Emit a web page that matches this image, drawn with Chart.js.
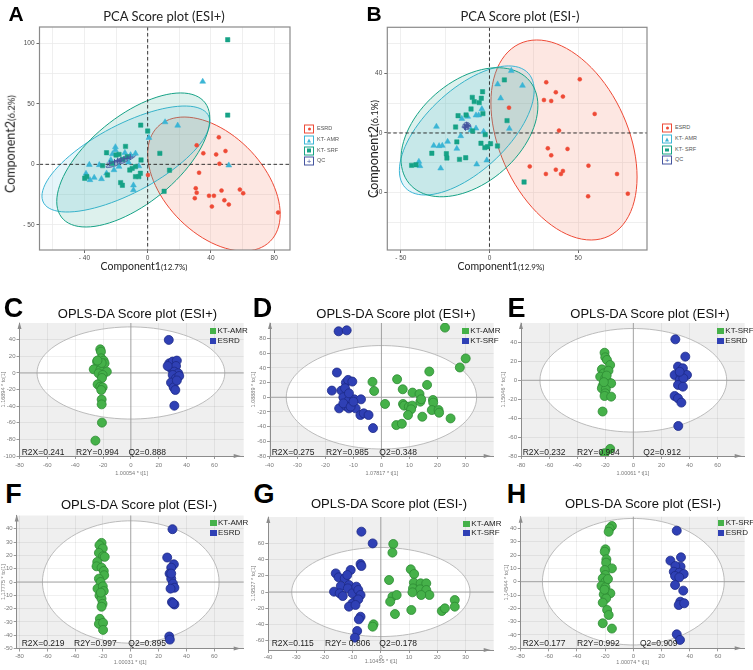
<!DOCTYPE html>
<html>
<head>
<meta charset="utf-8">
<script src="https://cdn.jsdelivr.net/npm/chart.js@4.4.0/dist/chart.umd.min.js"></script>
<style>
  body { margin: 0; width: 753px; height: 670px; position: relative; overflow: hidden; background: #fff;
         font-family: "Liberation Sans", Arial, sans-serif; }
  canvas { position: absolute; }
  .t { position: absolute; white-space: nowrap; line-height: 1; z-index: 2; }
</style>
</head>
<body>
<script>
// ---------- PCA (A / B) ----------
const pcaGroups = ['ESRD', 'KT- AMR', 'KT- SRF', 'QC'];
const pcaColors = ['#EE4A36', '#3BB5D5', '#16A286', '#45559F'];
const pcaFills = ['rgba(244,120,96,0.18)', 'rgba(80,190,222,0.15)', 'rgba(26,162,134,0.15)', 'rgba(69,85,159,0.35)'];
const pcaShapes = ['circle', 'triangle', 'rect', 'cross'];
const pcaSizes = [2, 3.4, 3.1, 3];

const A_esrd = [[45,22.3],[31,15.7],[35.2,9.1],[43.3,8.2],[49.2,11],[45.4,0.5],[32.5,-6.9],[30.4,-19.8],[31,-23.4],[29.8,-28],[38.8,-26],[41.9,-26],[40.6,-34.9],[46.7,-21.7],[48.5,-29.7],[51.3,-33.2],[58.3,-20.9],[60.4,-23.9],[82.5,-39.8],[0.2,-8.8]];
const A_amr = [[34.8,68.4],[11,34.9],[19,32.1],[0.8,22],[51.3,-0.8],[-7.7,9],[-20.4,14.3],[-20.4,11.8],[-14.4,9.6],[-10.8,7.7],[-36.9,-0.3],[-39,-7.7],[-36.5,-12.9],[-33.8,-11],[-29.2,-12.1],[-26,-7.4],[-9,-17.3],[-9,-21.2],[-22.3,8.5],[-23.3,3.6],[-18.1,-1.9],[-21.3,-4.7],[-12.1,1.6],[-5.6,-1.4],[-30.6,-0.5]];
const A_srf = [[50.6,103],[50.6,40.7],[-4.4,32.4],[0,27.5],[7.7,9.1],[13.8,-4.9],[10.4,-22.3],[-14,14.8],[-26,9.6],[-20,7.7],[-18.1,8.2],[-12.9,6.3],[-4.2,3.6],[-7.7,-1.9],[-9.8,-3.3],[-39.8,-11.5],[-38.5,-10.2],[-28.5,-1.1],[-25.4,-8.8],[-22.3,0.8],[-17.1,-15.1],[-16,-17.3],[-7.7,-10.2],[-5.6,-10.2],[-4.6,-7.4],[-15.6,4.1],[-11.3,-4.7]];
const A_qc = [[-24,1],[-21,2],[-19,3],[-17,3.5],[-15,4.5],[-13,5],[-11,6],[-18,2.5]];
// confidence ellipses: [cx, cy, half-width, half-height, correlation] in data units
const A_ellipses = [[41.9,-16.3,41.9,55.4,-0.45],[-13.75,4.4,53.1,43.8,0.7],[-9.1,3.6,48.4,55.4,0.62],[-16.9,2.7,9.4,5.4,0.9]];
const A_xTicks = [-60,-40,-20,0,20,40,60,80];
const A_yTicks = [-50,-25,0,25,50,75,100];

const B_esrd = [[32,34],[50.9,36],[37.4,27.3],[41.4,24.4],[30.7,22.1],[34.8,21.5],[11,17],[59.3,12.8],[39.2,1.6],[32.9,-10.3],[44,-10.7],[34.8,-15],[22.7,-22.4],[55.8,-21.9],[31.8,-27.5],[37.4,-24.6],[40.3,-27.5],[41.4,-25.5],[71.9,-27.5],[55.6,-42.5],[78,-40.7]];
const B_amr = [[12.3,41.8],[4.6,32.7],[18.6,31.8],[6.3,23.3],[11.2,2.9],[-29.9,4.3],[-39.8,-19.2],[-39.2,-22.1],[-31.4,-8.5],[-28.4,-8.7],[-26.6,-8.5],[-23.6,-5.8],[-27.5,-23.7],[-18.4,-10.5],[-16.2,-2],[-15.6,9.6],[-12.3,11],[-7.6,11.9],[-6.1,11.9],[-4.3,16.1],[-7.6,3.1],[-10.4,2],[-3.3,0.9],[-7.2,-21],[-1.5,-18.3]];
const B_srf = [[8.4,35.6],[9.9,8.3],[19.5,-32.9],[4.5,-8.7],[0.6,-7.2],[-1.1,-9.2],[-2.6,-9.8],[-2.4,-1.1],[-3.9,27.7],[-9.7,23.9],[-8.6,21],[-5.8,20.4],[-4.6,23.3],[-10.4,16.1],[-3.7,13],[-17.7,11.6],[-13.2,12.1],[-19.1,4],[-18.4,-6],[-24.3,-13.9],[-24,-16.8],[-32.5,-13.6],[-43.9,-21.7],[-41.4,-21.3],[-16.9,-17.7],[-13.4,-16.6],[-9.5,1.3],[-4.8,-6.9]];
const B_qc = [[-14,4],[-13,5.5],[-12,4.5],[-13.5,3.5],[-12.5,5]];
const B_ellipses = [[42,-4.7,41.2,67.1,-0.37],[-12.8,1.7,38,43.3,0.62],[-11.3,0.5,38.6,43.3,0.41],[-12.8,4.7,2.2,2.4,0]];
const B_xTicks = [-50,-25,0,25,50,75];
const B_yTicks = [-60,-40,-20,0,20,40,60];

// ---------- OPLS-DA (C - H) ----------
const C_amr = [[-22,28.5],[-21.5,25.7],[-21.3,17.7],[-24.3,13.7],[-19.6,14.9],[-23.2,9.6],[-18.9,11.6],[-26.7,4.4],[-22,3.6],[-17.3,1.6],[-23.2,-0.4],[-20.3,-2.4],[-20.8,-6],[-23.9,-13.7],[-22,-16.5],[-20.3,-17.3],[-21.3,-20.5],[-21,-32],[-21,-37.8],[-20.8,-59.8],[-25.5,-81.5],[-21,12],[-24,15]];
const C_esrd = [[27.2,39.8],[27.6,11.6],[30,13.7],[33,14.9],[28.8,5.6],[32.4,8.4],[31.2,1.6],[34,-0.4],[30,-2.4],[32.4,-6.4],[28.8,-11.6],[30.7,-17.3],[31.9,-20.5],[31.2,-39.4],[26.4,8.4],[34.7,-3.6],[33,-9]];
const D_amr = [[-3.2,21],[-2.6,8.6],[22.7,94.9],[30.1,52.9],[28,40.6],[17.1,35.1],[5.6,24.6],[16.3,16.9],[7.6,10.9],[11.1,6.4],[13.6,4.5],[1.3,-9.1],[7.7,-9.1],[8.1,-11.4],[9.8,-12.8],[11,-11.4],[10.6,-16.4],[9.5,-24.2],[13.9,-6],[14.6,-26.5],[18.4,-3.7],[18.5,-7.3],[18,-17.4],[20.4,-17.4],[20.6,-21],[24.7,-28.8],[5.3,-37.9],[7.3,-36.1],[14.2,-2.7]];
const D_srf = [[-15.3,89.9],[-12.4,91.2],[-15.9,33.7],[-17.7,9.1],[-14.3,9.1],[-12.7,20],[-11.9,23.7],[-10.4,21.4],[-13,12.3],[-13.6,0],[-11.6,-3.7],[-9.7,-2.8],[-15.1,-15.1],[-12.7,-11.9],[-11.6,-15.1],[-10.4,-11.9],[-9.2,-15.1],[-7.3,-2.8],[-7.5,-24.2],[-6.3,-21.9],[-4.6,-24.2],[-3,-42],[-13.6,-8.3],[-11.6,5.4],[-11,-12.8],[-10,-6]];
const E_srf = [[-20.5,29],[-20,24.2],[-18.8,21.4],[-22.4,11.5],[-16.5,16.1],[-21.2,7.3],[-17.7,10.1],[-23.6,3.8],[-20,2.1],[-18.1,-1.4],[-21.9,-6],[-17.7,-3.2],[-15.8,-3.2],[-22.4,-8.5],[-19.6,-9.5],[-20,-13.7],[-20.5,-16.5],[-15.8,-17.2],[-21.9,-32.9],[-16.5,-72.2],[-20.5,-76.8],[-19,5],[-21,-2]];
const E_esrd = [[29.9,43.1],[37,24.9],[31.8,14.4],[35.3,12.6],[29.4,5.6],[33.7,5.6],[38.2,5.6],[33,0.3],[35.6,2.1],[31.8,-4.9],[35.3,-6.7],[29.4,-16.5],[31.8,-19],[34.2,-23.5],[32,-48.1],[33,9]];
const F_amr = [[-21,29.4],[-22.5,27.7],[-20.1,25.2],[-22.9,21.9],[-19.9,19.4],[-18.7,18.9],[-24.1,15.1],[-24.6,11.8],[-21,10.8],[-19.4,8.3],[-19.1,5.1],[-22.9,2.5],[-21.7,0],[-23.9,-5],[-20.1,-3.3],[-19.4,-6.8],[-22.5,-10.1],[-21,-12.6],[-20.3,-16.4],[-21,-18.6],[-22.2,-27.7],[-22.9,-31.5],[-19.9,-30.7],[-19.9,-36],[-21.5,-8]];
const F_esrd = [[30,39.7],[26.2,18.4],[31,13.3],[29.1,10.8],[27.9,6.3],[29.1,2.5],[30.3,-1.2],[31.4,-4.3],[28.6,-5],[29.6,-15.1],[31.4,-16.9],[27.7,-41],[28.1,-43.3],[29.1,6.3],[30.5,-16]];
const G_amr = [[4.4,59.3],[4.1,48.6],[10.6,28],[11.8,22.2],[2.9,14.8],[11.7,11.5],[11.4,4.5],[14.1,10.7],[16.1,10.7],[13.9,3.3],[16.1,2.5],[17.2,-3.7],[11.2,-0.4],[14.3,-3.7],[4.1,-5.8],[5.6,-3.7],[3.3,-11.9],[5,-27.2],[10.8,-22.2],[21.6,-23.5],[22.7,-20.2],[26.2,-9.9],[26.2,-18.1],[-2.6,-39.9],[-2.9,-42.8]];
const G_srf = [[-6.9,74.5],[-2.9,60],[-7.2,34.6],[-6.9,32.1],[-10.7,27.2],[-16,23],[-15,18.1],[-12.8,16.9],[-11.9,21],[-14.2,7.4],[-11.3,8.6],[-16.6,0.4],[-14.6,-1.6],[-11.7,4.5],[-10.1,-1.6],[-8.7,6.6],[-8,2.5],[-7.2,-3.7],[-9.2,-11.9],[-10.1,-14],[-11.3,-18.1],[-8,-9.1],[-9,-16],[-7.2,-30.5],[-7.8,-33.7],[-8.4,-48.1],[-9.2,-56.4],[-13.5,-5]];
const H_srf = [[-15.2,41.8],[-16.8,40],[-17.5,37.5],[-19.8,24.3],[-20.3,22.5],[-19.1,16.8],[-19.3,14.3],[-15.2,10],[-20.3,8.8],[-19.8,5],[-21.7,2.5],[-19.8,0],[-22.6,-3.2],[-19.8,-4.2],[-16.3,-8.7],[-21,-9.5],[-19.3,-12.5],[-21.7,-15.7],[-18.6,-21.2],[-17.5,-25],[-21.7,-31.2],[-15.2,-35.2],[-20.5,-6],[-18,2]];
const H_esrd = [[30.8,38.3],[33.8,18.3],[26.3,15.8],[33.5,11.3],[29.8,11.8],[28.7,7.5],[32.6,6.8],[35.7,5.8],[29.6,4.3],[32.6,3.3],[29.6,-2.5],[35.4,-6.7],[33.3,-15],[32.2,-17.5],[36.1,-16.2],[30.8,-39.5],[33.1,-43.7]];

const oplsStats = [['0.241','0.994','0.888'],['0.275','0.985','0.348'],['0.232','0.994','0.912'],['0.219','0.997','0.895'],['0.115',' 0.806','0.178'],['0.177','0.992','0.909']];
const green = '#45B149', greenEdge = '#2D8A33', blue = '#2F40B5', blueEdge = '#1D2A86';

// ---------- helpers ----------
function txt(s, x, y, css, anchor) {
  const d = document.createElement('div');
  d.className = 't';
  d.innerHTML = s;
  d.style.cssText += css;
  d.style.left = x + 'px'; d.style.top = y + 'px';
  d.style.transform = anchor === 'l' ? 'translate(0,-50%)' : anchor === 'v' ? 'translate(-50%,-50%) rotate(-90deg)' : 'translate(-50%,-50%)';
  document.body.appendChild(d);
}

function makeCanvas(L, T, R, B, yw, xh, pt, pr) {
  const left = Math.floor(L - yw), top = Math.floor(T - pt);
  const w = Math.ceil(R + pr - left), h = Math.ceil(B + xh - top);
  const c = document.createElement('canvas');
  c.width = w; c.height = h;
  c.style.left = left + 'px'; c.style.top = top + 'px';
  c.style.width = w + 'px'; c.style.height = h + 'px';
  document.body.appendChild(c);
  return { c, yw: L - left, pt: T - top, pr: left + w - R, xh: top + h - B };
}

// e = [cx, cy, hx, hy, r]
function ellipsePath(ctx, sx, sy, e) {
  const [cx, cy, hx, hy, r] = e;
  const k = Math.sqrt(1 - r * r);
  ctx.beginPath();
  for (let i = 0; i <= 90; i++) {
    const t = i / 90 * Math.PI * 2;
    const px = sx.getPixelForValue(cx + hx * Math.cos(t));
    const py = sy.getPixelForValue(cy + hy * (r * Math.cos(t) + k * Math.sin(t)));
    i ? ctx.lineTo(px, py) : ctx.moveTo(px, py);
  }
  ctx.closePath();
}

const pcaDecor = {
  id: 'pcaDecor',
  beforeDatasetsDraw(chart, args, o) {
    const { ctx, chartArea: a, scales: { x, y } } = chart;
    ctx.save();
    ctx.beginPath(); ctx.rect(a.left, a.top, a.right - a.left, a.bottom - a.top); ctx.clip();
    o.ellipses.forEach((e, i) => {
      ellipsePath(ctx, x, y, e);
      ctx.fillStyle = pcaFills[i]; ctx.fill();
      ctx.strokeStyle = pcaColors[i]; ctx.lineWidth = 1; ctx.stroke();
    });
    ctx.setLineDash([3.5, 2.5]); ctx.strokeStyle = '#222'; ctx.lineWidth = 0.9;
    const x0 = x.getPixelForValue(0), y0 = y.getPixelForValue(0);
    ctx.beginPath(); ctx.moveTo(x0, a.top); ctx.lineTo(x0, a.bottom);
    ctx.moveTo(a.left, y0); ctx.lineTo(a.right, y0); ctx.stroke();
    ctx.restore();
  },
  afterDraw(chart) {
    const { ctx, chartArea: a } = chart;
    ctx.save(); ctx.strokeStyle = '#8A8A8A'; ctx.lineWidth = 1.2;
    ctx.strokeRect(a.left, a.top, a.right - a.left, a.bottom - a.top);
    ctx.restore();
  }
};

function pcaChart(box, xr, yr, xTicks, yTicks, xMajor, yMajor, groups, ellipses) {
  const m = makeCanvas(box[0], box[1], box[2], box[3], box[4], 12, box[1] - 2, 2);
  const fmt = v => v < 0 ? '- ' + (-v) : String(v);
  const tickFont = { size: 6.5, family: 'Liberation Sans' };
  new Chart(m.c, {
    type: 'scatter',
    data: {
      datasets: groups.map((g, i) => ({
        label: pcaGroups[i], data: g.map(p => ({ x: p[0], y: p[1] })),
        pointStyle: pcaShapes[i], pointRadius: pcaSizes[i],
        backgroundColor: pcaColors[i], borderColor: pcaColors[i], borderWidth: i === 3 ? 1 : 0.5
      })).reverse()
    },
    options: {
      responsive: false, animation: false, events: [],
      layout: { padding: { top: m.pt, right: m.pr, left: 0, bottom: 0 } },
      plugins: { legend: { display: false }, tooltip: { enabled: false }, pcaDecor: { ellipses } },
      scales: {
        x: {
          type: 'linear', min: xr[0], max: xr[1],
          afterBuildTicks: s => { s.ticks = xTicks.map(v => ({ value: v })); },
          afterFit: s => { s.height = m.xh; },
          grid: { color: '#EBEBEB', lineWidth: 0.8, tickLength: 3, tickColor: c => c.tick && c.tick.value % xMajor === 0 ? '#444' : 'rgba(0,0,0,0)' },
          border: { display: false },
          ticks: { font: tickFont, color: '#4D4D4D', padding: 1, autoSkip: false, maxRotation: 0, callback: v => v % xMajor === 0 ? fmt(v) : '' }
        },
        y: {
          type: 'linear', min: yr[0], max: yr[1],
          afterBuildTicks: s => { s.ticks = yTicks.map(v => ({ value: v })); },
          afterFit: s => { s.width = m.yw; },
          grid: { color: '#EBEBEB', lineWidth: 0.8, tickLength: 3, tickColor: c => c.tick && c.tick.value % yMajor === 0 ? '#444' : 'rgba(0,0,0,0)' },
          border: { display: false },
          ticks: { font: tickFont, color: '#4D4D4D', padding: 2, autoSkip: false, callback: v => v % yMajor === 0 ? fmt(v) : '' }
        }
      }
    },
    plugins: [pcaDecor]
  });
}

const oplsDecor = {
  id: 'oplsDecor',
  beforeDraw(chart, args, o) {
    const { ctx, chartArea: a, scales: { x, y } } = chart;
    ctx.save();
    ctx.fillStyle = '#EFEFEF';
    ctx.fillRect(a.left, a.top, a.right - a.left, a.bottom - a.top);
    ellipsePath(ctx, x, y, [0, 0, o.rx, o.ry, 0]);
    ctx.fillStyle = '#FFFFFF'; ctx.fill();
    ctx.restore();
  },
  beforeDatasetsDraw(chart, args, o) {
    const { ctx, chartArea: a, scales: { x, y } } = chart;
    ctx.save();
    ellipsePath(ctx, x, y, [0, 0, o.rx, o.ry, 0]);
    ctx.strokeStyle = '#B4B4B4'; ctx.lineWidth = 0.9; ctx.stroke();
    const x0 = x.getPixelForValue(0), y0 = y.getPixelForValue(0);
    ctx.strokeStyle = '#9C9C9C'; ctx.lineWidth = 0.9;
    ctx.beginPath(); ctx.moveTo(x0, a.top); ctx.lineTo(x0, a.bottom);
    ctx.moveTo(a.left, y0); ctx.lineTo(a.right, y0); ctx.stroke();
    ctx.restore();
  },
  afterDraw(chart) {
    const { ctx, chartArea: a } = chart;
    ctx.save(); ctx.fillStyle = '#8C8C8C';
    ctx.beginPath(); ctx.moveTo(a.left, a.top - 1); ctx.lineTo(a.left - 2, a.top + 6); ctx.lineTo(a.left + 2, a.top + 6); ctx.fill();
    ctx.beginPath(); ctx.moveTo(a.right - 3, a.bottom); ctx.lineTo(a.right - 10, a.bottom - 2); ctx.lineTo(a.right - 10, a.bottom + 2); ctx.fill();
    ctx.restore();
  }
};

function oplsChart(box, xr, yr, xTicks, yTicks, e, sets, xTitle, yTitle, tickPad) {
  const m = makeCanvas(box[0], box[1], box[2], box[3], box[4], box[5], 6, 2);
  const tickFont = { size: 6, family: 'Liberation Sans' };
  new Chart(m.c, {
    type: 'scatter',
    data: {
      datasets: sets.map(s => ({
        data: s[0].map(p => ({ x: p[0], y: p[1] })), pointRadius: 4.5, borderWidth: 0.8,
        backgroundColor: s[1], borderColor: s[2]
      }))
    },
    options: {
      responsive: false, animation: false, events: [],
      layout: { padding: { top: m.pt, right: m.pr, left: 0, bottom: 0 } },
      plugins: { legend: { display: false }, tooltip: { enabled: false }, oplsDecor: { rx: e[0], ry: e[1] } },
      scales: {
        x: {
          type: 'linear', min: xr[0], max: xr[1],
          afterBuildTicks: s => { s.ticks = xTicks.map(v => ({ value: v })); },
          afterFit: s => { s.height = m.xh; },
          grid: { color: 'rgba(0,0,0,0.06)', tickLength: 3, tickColor: '#9A9A9A' },
          border: { display: true, color: '#8C8C8C', width: 1 },
          ticks: { font: tickFont, color: '#7A7A7A', padding: tickPad, autoSkip: false, maxRotation: 0 },
          title: { display: true, text: xTitle, font: { size: 5.5, family: 'Liberation Sans' }, color: '#7A7A7A', padding: { top: 0, bottom: 1 } }
        },
        y: {
          type: 'linear', min: yr[0], max: yr[1],
          afterBuildTicks: s => { s.ticks = yTicks.map(v => ({ value: v })); },
          afterFit: s => { s.width = m.yw; },
          grid: { color: 'rgba(0,0,0,0.06)', tickLength: 3, tickColor: '#9A9A9A' },
          border: { display: true, color: '#8C8C8C', width: 1 },
          ticks: { font: tickFont, color: '#7A7A7A', padding: 1, autoSkip: false },
          title: { display: true, text: yTitle, font: { size: 5.5, family: 'Liberation Sans' }, color: '#7A7A7A', padding: { top: 0.5, bottom: 0 } }
        }
      }
    },
    plugins: [oplsDecor]
  });
}

const range = (a, b, s) => { const r = []; for (let v = a; v <= b + 1e-9; v += s) r.push(v); return r; };

// ---------- build ----------
pcaChart([39.5, 27, 293, 250, 39.5], [-68.4, 90], [-70.8, 113.5], A_xTicks, A_yTicks, 40, 50, [A_esrd, A_amr, A_srf, A_qc], A_ellipses);
pcaChart([387.3, 27.3, 650, 250, 37.3], [-57.6, 88.8], [-78.5, 70.9], B_xTicks, B_yTicks, 50, 40, [B_esrd, B_amr, B_srf, B_qc], B_ellipses);

oplsChart([19.5, 323, 247, 456, 19.5, 21.3], [-80, 81], [-100, 60.2], range(-80, 60, 20), range(-100, 40, 20), [67.4, 55.5],
  [[C_amr, green, greenEdge], [C_esrd, blue, blueEdge]], '1.00054 * t[1]', '1.16894 * to[1]', 3);
oplsChart([270, 323, 497, 456, 20, 21.3], [-39.8, 40.1], [-80, 101.2], range(-40, 30, 10), range(-80, 80, 20), [34, 70.5],
  [[D_srf, blue, blueEdge], [D_amr, green, greenEdge]], '1.07817 * t[1]', '1.08889 * to[1]', 3);
oplsChart([521, 323, 748, 456, 21, 21.3], [-80, 79.3], [-79.7, 60.3], range(-80, 60, 20), range(-80, 40, 20), [66.5, 54.5],
  [[E_srf, green, greenEdge], [E_esrd, blue, blueEdge]], '1.00061 * t[1]', '1.15046 * to[1]', 3);
oplsChart([16.7, 515.5, 247, 648.5, 16.7, 17.7], [-82, 81.2], [-50, 50], range(-80, 60, 20), range(-50, 40, 10), [63.5, 46],
  [[F_amr, green, greenEdge], [F_esrd, blue, blueEdge]], '1.00031 * t[1]', '1.17775 * to[1]', 1);
oplsChart([268.3, 517, 497, 650, 18.3, 16], [-39.9, 40], [-71.6, 92.6], range(-40, 30, 10), range(-60, 60, 20), [31.6, 55],
  [[G_srf, blue, blueEdge], [G_amr, green, greenEdge]], '1.10455 * t[1]', '1.19527 * to[1]', 1);
oplsChart([520.7, 516.7, 748, 648.3, 17.7, 18], [-79.9, 79], [-50, 48.8], range(-80, 60, 20), range(-50, 40, 10), [64.5, 47.5],
  [[H_srf, green, greenEdge], [H_esrd, blue, blueEdge]], '1.00074 * t[1]', '1.14544 * to[1]', 1);

// ---------- text ----------
const letterCss = 'font-weight:bold;color:#000;font-family:"Liberation Sans",Arial;';
txt('A', 16, 13, letterCss + 'font-size:21px;');
txt('B', 374, 13, letterCss + 'font-size:21px;');
[['C', 13.5, 308], ['D', 262.5, 308], ['E', 516.5, 308], ['F', 13.5, 494], ['G', 264, 494], ['H', 516.5, 494]]
  .forEach(l => txt(l[0], l[1], l[2], letterCss + 'font-size:27px;'));

const pcaTitleCss = 'font-family:Lato,"Open Sans";font-size:13px;color:#222;';
txt('PCA Score plot (ESI+)', 164, 16, pcaTitleCss);
txt('PCA Score plot (ESI-)', 520, 16, pcaTitleCss);
const axCss = 'font-family:Lato,"Open Sans";color:#222;';
txt('Component1<span style="font-size:8px">(12.7%)</span>', 144, 266, axCss + 'font-size:10.5px;');
txt('Component1<span style="font-size:8px">(12.9%)</span>', 501, 266, axCss + 'font-size:10.5px;');
txt('Component2<span style="font-size:9.5px">(6.2%)</span>', 11, 144, axCss + 'font-size:12.5px;', 'v');
txt('Component2<span style="font-size:9.5px">(6.1%)</span>', 373.5, 149, axCss + 'font-size:12.5px;', 'v');

function pcaLegend(x, ys) {
  const sym = [
    '<div style="width:3px;height:3px;border-radius:50%;background:' + pcaColors[0] + '"></div>',
    '<div style="width:0;height:0;border-left:2.5px solid transparent;border-right:2.5px solid transparent;border-bottom:4px solid ' + pcaColors[1] + '"></div>',
    '<div style="width:3.5px;height:3.5px;background:' + pcaColors[2] + '"></div>',
    '<div style="font-size:8px;line-height:8px;color:' + pcaColors[3] + '">+</div>'
  ];
  pcaGroups.forEach((g, i) => {
    txt('<div style="width:8px;height:7px;border:1px solid ' + pcaColors[i] + ';display:flex;align-items:center;justify-content:center">' + sym[i] + '</div>', x, ys[i], '', 'l');
    txt(g, x + 13, ys[i], 'font-size:5.5px;color:#555;', 'l');
  });
}
pcaLegend(304, [129, 140, 150.5, 161]);
pcaLegend(662, [128.3, 139.3, 150, 160.3]);

const oplsTitleCss = 'font-family:"Liberation Sans",Arial;font-size:13px;color:#111;';
txt('OPLS-DA Score plot (ESI+)', 137.5, 312.5, oplsTitleCss);
txt('OPLS-DA Score plot (ESI+)', 396, 312.5, oplsTitleCss);
txt('OPLS-DA Score plot (ESI+)', 650, 312.5, oplsTitleCss);
txt('OPLS-DA Score plot (ESI-)', 139, 503.5, oplsTitleCss);
txt('OPLS-DA Score plot (ESI-)', 389, 503, oplsTitleCss);
txt('OPLS-DA Score plot (ESI-)', 643, 503, oplsTitleCss);

const statPos = [[21.7, 76, 128.5, 452.3], [271.7, 326, 379.3, 451.7], [522.7, 577, 643.3, 452.3],
                 [21.7, 74, 128.3, 643.3], [271.7, 325, 379.3, 643.3], [522.7, 577, 640, 643.3]];
const statCss = 'font-size:8.5px;color:#222;';
statPos.forEach((p, i) => {
  txt('R2X=' + oplsStats[i][0], p[0], p[3], statCss, 'l');
  txt('R2Y=' + oplsStats[i][1], p[1], p[3], statCss, 'l');
  txt('Q2=' + oplsStats[i][2], p[2], p[3], statCss, 'l');
});

function oplsLegend(x, y1, y2, names, cols) {
  [y1, y2].forEach((y, i) => {
    txt('<div style="width:6.5px;height:6px;background:' + cols[i] + '"></div>', x, y, '', 'l');
    txt(names[i], x + 8, y, 'font-size:8px;color:#222;', 'l');
  });
}
oplsLegend(209.5, 331, 341, ['KT-AMR', 'ESRD'], [green, blue]);
oplsLegend(462.3, 330.5, 340.5, ['KT-AMR', 'KT-SRF'], [green, blue]);
oplsLegend(717.3, 331, 341, ['KT-SRF', 'ESRD'], [green, blue]);
oplsLegend(210, 522.7, 532.5, ['KT-AMR', 'ESRD'], [green, blue]);
oplsLegend(463.3, 523.5, 533.3, ['KT-AMR', 'KT-SRF'], [green, blue]);
oplsLegend(717.7, 523, 533, ['KT-SRF', 'ESRD'], [green, blue]);
</script>
</body>
</html>
